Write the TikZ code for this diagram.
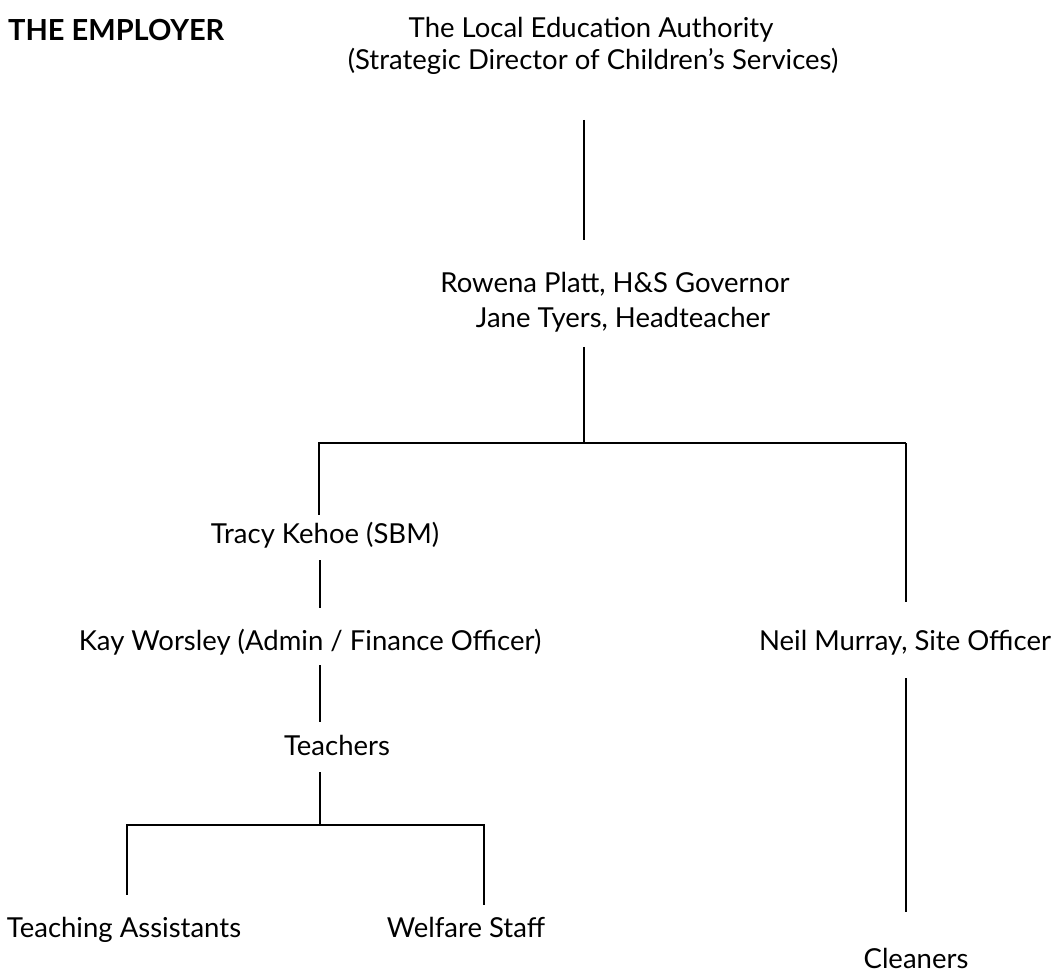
\documentclass[tikz,border=0pt]{standalone}
\usepackage{fontspec}
\setmainfont{Lato}
\begin{document}
\begin{tikzpicture}[x=1pt,y=-1pt,
  lbl/.style={inner sep=0pt,anchor=base,font=\fontsize{27.5}{31}\selectfont},
  vline/.style={line width=1.6pt},
  hline/.style={line width=2.4pt}]
\useasboundingbox (0,0) rectangle (1055,976);
\node[inner sep=0pt,anchor=base west,font=\fontsize{29}{31}\selectfont\bfseries] (emp) at (8,41) {THE EMPLOYER};
\node[lbl] (lea1) at (591,38) {The Local Education Authority};
\node[lbl] (lea2) at (593,70) {(Strategic Director of Children’s Services)};
\node[lbl] (hd1) at (615,293) {Rowena Platt, H\&S Governor};
\node[lbl] (hd2) at (623,328) {Jane Tyers, Headteacher};
\node[lbl] (tk) at (325,543) {Tracy Kehoe (SBM)};
\node[lbl] (kw) at (310,650) {Kay Worsley (Admin / Finance Officer)};
\node[lbl] (nm) at (905,650) {Neil Murray, Site Officer};
\node[lbl] (te) at (337,755) {Teachers};
\node[lbl] (ta) at (124,937) {Teaching Assistants};
\node[lbl] (ws) at (466,937) {Welfare Staff};
\node[lbl] (cl) at (916,968) {Cleaners};
\coordinate (j1) at (584,443);
\coordinate (j2) at (320,825);
% connectors
\draw[vline] (584,120) -- (584,240);
\draw[vline] (584,347) -- (j1);
\draw[hline] (318,443) -- (906,443);
\draw[vline] (319,443) -- (319,515);
\draw[vline] (906,443) -- (906,602);
\draw[vline] (320,560) -- (320,608);
\draw[vline] (320,665) -- (320,722);
\draw[vline] (320,772) -- (j2);
\draw[hline] (126,825) -- (485,825);
\draw[vline] (127,825) -- (127,895);
\draw[vline] (484,825) -- (484,905);
\draw[vline] (906,678) -- (906,912);
\end{tikzpicture}
\end{document}
